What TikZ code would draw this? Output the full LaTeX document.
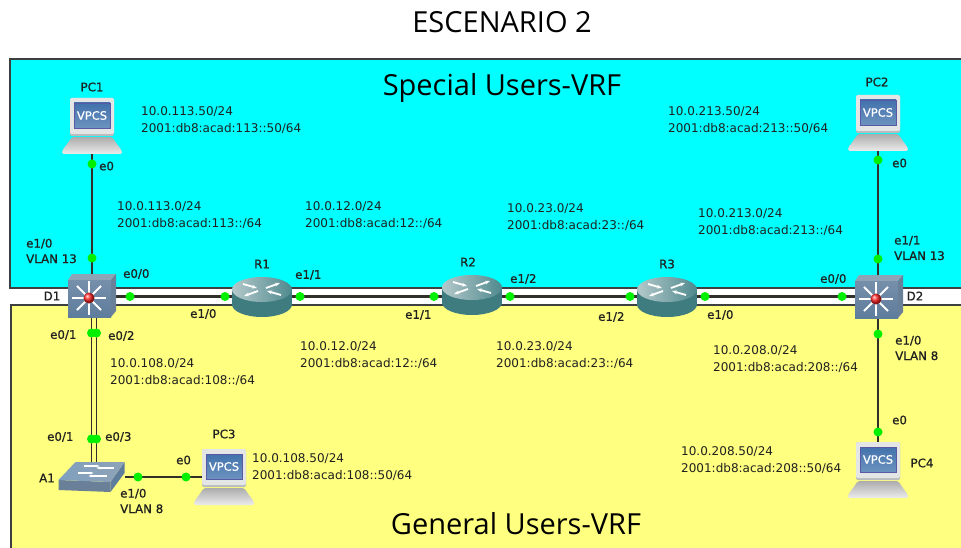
\documentclass[tikz,border=0pt]{standalone}
\usepackage{fontspec}
\setmainfont{DejaVu Sans}
\newfontfamily\titlefont{Open Sans}
\newfontfamily\labfont[FakeBold=0.8]{DejaVu Sans}
\usetikzlibrary{arrows.meta}
\definecolor{special}{HTML}{00FFFF}
\definecolor{general}{HTML}{FFFF80}
\definecolor{edge}{HTML}{3C4040}
\definecolor{wire}{HTML}{303028}
\definecolor{port}{HTML}{00F000}
\definecolor{ink}{HTML}{202020}
\definecolor{screenA}{HTML}{4272AC}
\definecolor{screenB}{HTML}{6C93BF}
\definecolor{caseA}{HTML}{E4E6E6}
\definecolor{caseB}{HTML}{B8BCBC}
\definecolor{tealA}{HTML}{3F7C80}
\definecolor{tealB}{HTML}{B4C8CA}
\definecolor{tealC}{HTML}{4F8A8E}
\definecolor{steelA}{HTML}{5E7C9C}
\definecolor{steelB}{HTML}{8FA3B6}
\definecolor{steelC}{HTML}{6A8099}
\definecolor{steelD}{HTML}{7FA0BF}
\tikzset{
  zone/.style={draw=edge, line width=1.4pt},
  hub/.style={inner sep=0pt, outer sep=0pt},
  link/.style={draw=wire, line width=2.1pt},
  trunk/.style={draw=wire, line width=1.7pt},
  portdot/.style={circle, fill=port, inner sep=0pt, minimum size=9pt},
  net/.style={text=ink, font=\fontsize{12}{16.5}\selectfont, anchor=west, align=left, inner sep=0pt},
  lab/.style={text=ink, font=\labfont\fontsize{11.8}{15.5}\selectfont, anchor=west, align=left, inner sep=0pt},
  devlab/.style={text=ink, font=\labfont\fontsize{11.8}{14}\selectfont, inner sep=0pt},
  heading/.style={text=black, font=\titlefont\fontsize{29}{32}\selectfont, inner sep=0pt},
  vpcs/.pic={
    \shade[top color=gray!65, bottom color=gray!15, rounded corners=1.5pt]
      (-20,11) -- (20,11) -- (30,25) -- (30,28) -- (-30,28) -- (-30,25) -- cycle;
    \fill[caseB, rounded corners=2pt] (-22,-28) rectangle (22,10);
    \fill[caseA, rounded corners=2pt] (-22,-28) rectangle (22,8);
    \shade[top color=screenA, bottom color=screenB, draw=gray!70!blue] (-18,-23) rectangle (18,2);
    \node[text=white, font=\labfont\fontsize{11.5}{12}\selectfont, inner sep=0pt] (vpcstxt) at (0,-10.5) {VPCS};
  },
  router/.pic={
    \fill[tealA] (0,7.5) ellipse [x radius=30, y radius=12.5];
    \fill[tealA] (-30,-7.5) rectangle (30,7.5);
    \shade[left color=tealB, right color=tealC] (0,-7.5) ellipse [x radius=30, y radius=12.5];
    \draw[white, line width=1.8pt, -{Stealth[length=5pt]}] (-19,-13) -- (-5,-9);
    \draw[white, line width=1.8pt, -{Stealth[length=5pt]}] (19,-2) -- (5,-6);
    \draw[white, line width=1.8pt, -{Stealth[length=5pt]}] (4,-9) -- (18,-14);
    \draw[white, line width=1.8pt, -{Stealth[length=5pt]}] (-4,-6) -- (-18,-1);
  },
  lswitch/.pic={
    \fill[steelB] (-24,-16) -- (-20,-22) -- (24,-22) -- (19,-16) -- cycle;
    \fill[steelC] (19,-16) -- (24,-22) -- (24,15) -- (19,21) -- cycle;
    \shade[top color=steelA!85!white, bottom color=steelA] (-24,-16) rectangle (19,21);
    \foreach \ang in {0,45,...,315}
      \draw[white, line width=1.9pt] (-3,2) -- ++(\ang:17);
    \shade[ball color=red!80!pink] (-3,2) circle (5.5);
  },
  lanswitch/.pic={
    \fill[steelC] (-33,3) -- (19,5) -- (19,15) -- (-33,13) -- cycle;
    \fill[steelA] (19,5) -- (33,-15) -- (33,-4) -- (19,15) -- cycle;
    \shade[left color=steelD, right color=steelB] (-33,3) -- (-16,-15) -- (33,-15) -- (19,5) -- cycle;
    \draw[white, line width=1.3pt, -{Stealth[length=3.5pt]}] (-8,-11) -- (8,-11);
    \draw[white, line width=1.3pt, -{Stealth[length=3.5pt]}] (22,-9) -- (5,-9);
    \draw[white, line width=1.3pt, -{Stealth[length=3.5pt]}] (-14,-4) -- (2,-4);
    \draw[white, line width=1.3pt, -{Stealth[length=3.5pt]}] (15,-1) -- (-3,-1);
  },
}

\begin{document}
\begin{tikzpicture}[x=1pt,y=-1pt]
  \useasboundingbox (0,0) rectangle (961,548);
  \fill[white] (0,0) rectangle (961,548);

  % zones
  \filldraw[zone, fill=special] (10,59) rectangle (975,288);
  \filldraw[zone, fill=general] (11,305) rectangle (975,560);

  % devices
  \node[hub, minimum width=44pt, minimum height=56pt] (PC1) at (92,126) {};
  \node[hub, minimum width=44pt, minimum height=56pt] (PC2) at (878,123) {};
  \node[hub, minimum width=44pt, minimum height=56pt] (PC3) at (224,477) {};
  \node[hub, minimum width=44pt, minimum height=56pt] (PC4) at (878,470) {};
  \node[hub, minimum width=46pt, minimum height=43pt] (D1) at (92,296.5) {};
  \node[hub, minimum width=46pt, minimum height=43pt] (D2) at (878,296.5) {};
  \node[hub, minimum width=60pt, minimum height=40pt] (R1) at (262,296.5) {};
  \node[hub, minimum width=60pt, minimum height=40pt] (R2) at (472,296.5) {};
  \node[hub, minimum width=60pt, minimum height=40pt] (R3) at (667,296.5) {};
  \node[hub, minimum width=66pt, minimum height=30pt] (A1) at (92,477) {};

  % links
  \draw[link] (PC1) -- (D1);
  \draw[link] (PC2) -- (D2);
  \draw[link] (D2) -- (PC4);
  \draw[link] (D1) -- (R1);
  \draw[link] (R1) -- (R2);
  \draw[link] (R2) -- (R3);
  \draw[link] (R3) -- (D2);
  \draw[trunk] ([xshift=-0.5pt]D1.south) -- ([xshift=-0.5pt]A1.north);
  \draw[trunk] ([xshift=4.5pt]D1.south) -- ([xshift=4.5pt]A1.north);
  \draw[link] (A1) -- (PC3);

  % icons
  \pic at (92,126) {vpcs};
  \pic at (878,123) {vpcs};
  \pic at (224,477) {vpcs};
  \pic at (878,470) {vpcs};
  \pic at (92,296) {lswitch};
  \pic at (879,297) {lswitch};
  \pic at (262,297) {router};
  \pic at (472,295) {router};
  \pic at (667,297) {router};
  \pic at (91.5,477) {lanswitch};

  % ports
  \node[portdot] (pa) at (92,164) {};
  \node[portdot] (pb) at (92,258) {};
  \node[portdot] (pc) at (130,296.5) {};
  \node[portdot] (pd) at (225,296.5) {};
  \node[portdot] (pe) at (300,296.5) {};
  \node[portdot] (pf) at (434,296.5) {};
  \node[portdot] (pg) at (510,296.5) {};
  \node[portdot] (ph) at (630,296.5) {};
  \node[portdot] (pi) at (705,296.5) {};
  \node[portdot] (pj) at (842,296.5) {};
  \node[portdot] (pk) at (878,160) {};
  \node[portdot] (pl) at (878,259) {};
  \node[portdot] (pm) at (878,334) {};
  \node[portdot] (pn) at (878,432) {};
  \node[portdot] (po) at (91.5,333) {};
  \node[portdot] (pp) at (96.5,333) {};
  \node[portdot] (pq) at (91.5,439) {};
  \node[portdot] (pr) at (96.5,439) {};
  \node[portdot] (ps) at (138,477) {};
  \node[portdot] (pt) at (186,477) {};

  % headings
  \node[heading] (title) at (502,22) {ESCENARIO 2};
  \node[heading] (spec) at (502,88) {Special Users-VRF};
  \node[heading] (gen) at (516,524) {General Users-VRF};

  % device names
  \node[devlab] (nPC1) at (92,87) {PC1};
  \node[devlab] (nPC2) at (877,82) {PC2};
  \node[devlab] (nPC3) at (224,434) {PC3};
  \node[devlab] (nPC4) at (922,463) {PC4};
  \node[devlab] (nD1) at (52,296) {D1};
  \node[devlab] (nD2) at (915,296) {D2};
  \node[devlab] (nR1) at (262,264) {R1};
  \node[devlab] (nR2) at (468,262) {R2};
  \node[devlab] (nR3) at (667,264) {R3};
  \node[devlab] (nA1) at (47,478) {A1};

  % networks
  \node[net] (n1) at (141,120) {10.0.113.50/24\\2001:db8:acad:113::50/64};
  \node[net] (n2) at (117,215) {10.0.113.0/24\\2001:db8:acad:113::/64};
  \node[net] (n3) at (305,215) {10.0.12.0/24\\2001:db8:acad:12::/64};
  \node[net] (n4) at (507,217) {10.0.23.0/24\\2001:db8:acad:23::/64};
  \node[net] (n5) at (698,222) {10.0.213.0/24\\2001:db8:acad:213::/64};
  \node[net] (n6) at (668,120) {10.0.213.50/24\\2001:db8:acad:213::50/64};
  \node[net] (n7) at (110,372) {10.0.108.0/24\\2001:db8:acad:108::/64};
  \node[net] (n8) at (300,355) {10.0.12.0/24\\2001:db8:acad:12::/64};
  \node[net] (n9) at (496,355) {10.0.23.0/24\\2001:db8:acad:23::/64};
  \node[net] (n10) at (713,359) {10.0.208.0/24\\2001:db8:acad:208::/64};
  \node[net] (n11) at (252,467) {10.0.108.50/24\\2001:db8:acad:108::50/64};
  \node[net] (n12) at (681,460) {10.0.208.50/24\\2001:db8:acad:208::50/64};

  % port names
  \node[lab] (l1) at (99,166) {e0};
  \node[lab] (l2) at (26,251) {e1/0\\VLAN 13};
  \node[lab] (l3) at (123,274) {e0/0};
  \node[lab] (l4) at (295,275) {e1/1};
  \node[lab] (l5) at (190,314) {e1/0};
  \node[lab] (l6) at (405,315) {e1/1};
  \node[lab] (l7) at (510,279) {e1/2};
  \node[lab] (l8) at (598,317) {e1/2};
  \node[lab] (l9) at (707,315) {e1/0};
  \node[lab] (l10) at (820,279) {e0/0};
  \node[lab] (l11) at (892,163) {e0};
  \node[lab] (l12) at (894,248) {e1/1\\VLAN 13};
  \node[lab] (l13) at (895,348) {e1/0\\VLAN 8};
  \node[lab] (l14) at (892,420) {e0};
  \node[lab] (l15) at (50,335) {e0/1};
  \node[lab] (l16) at (108,336) {e0/2};
  \node[lab] (l17) at (47,437) {e0/1};
  \node[lab] (l18) at (105,437) {e0/3};
  \node[lab] (l19) at (120,501) {e1/0\\VLAN 8};
  \node[lab] (l20) at (176,460) {e0};
\end{tikzpicture}
\end{document}
